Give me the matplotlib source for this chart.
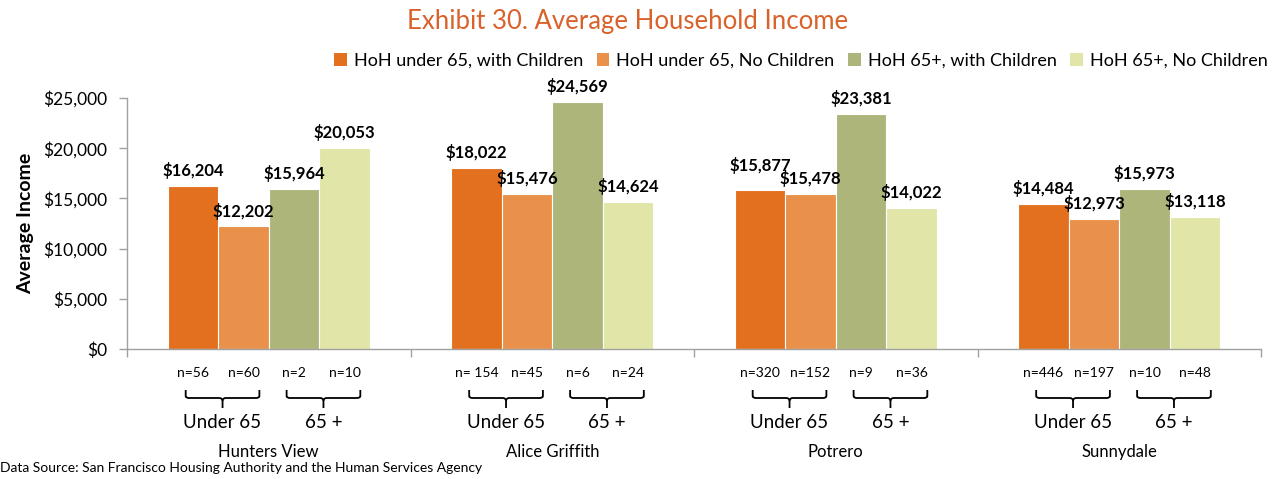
import matplotlib
matplotlib.use("Agg")
import matplotlib.pyplot as plt
import matplotlib.transforms as mtransforms
from matplotlib.patches import Patch
from matplotlib.path import Path
from matplotlib.patches import PathPatch
import numpy as np

# ---------------- data ----------------
sites = ["Hunters View", "Alice Griffith", "Potrero", "Sunnydale"]
series_names = ["HoH under 65, with Children", "HoH under 65, No Children",
                "HoH 65+, with Children", "HoH 65+, No Children"]
u65_kids = [16204, 18022, 15877, 14484]
u65_nokids = [12202, 15476, 15478, 12973]
o65_kids = [15964, 24569, 23381, 15973]
o65_nokids = [20053, 14624, 14022, 13118]
n_u65_kids = ["n=56", "n= 154", "n=320", "n=446"]
n_u65_nokids = ["n=60", "n=45", "n=152", "n=197"]
n_o65_kids = ["n=2", "n=6", "n=9", "n=10"]
n_o65_nokids = ["n=10", "n=24", "n=36", "n=48"]
age_groups = ["Under 65", "65 +"]
yticks = [0, 5000, 10000, 15000, 20000, 25000]
title = "Exhibit 30. Average Household Income"
ylabel = "Average Income"
source = "Data Source: San Francisco Housing Authority and the Human Services Agency"

colors = ["#E2701E", "#E9914A", "#AEB57A", "#E1E6A8"]

plt.rcParams['font.family'] = ['Lato', 'DejaVu Sans']

W, H = 1278, 479
fig = plt.figure(figsize=(W / 100, H / 100), dpi=100)
ax = fig.add_axes([127 / W, 1 - 349 / H, 1134 / W, 251 / H])

series = [u65_kids, u65_nokids, o65_kids, o65_nokids]
nlabels = [n_u65_kids, n_u65_nokids, n_o65_kids, n_o65_nokids]
x = np.arange(len(sites))
bw = 0.178
offsets = [-1.5 * bw, -0.5 * bw, 0.5 * bw, 1.5 * bw]

for s, vals, off, c in zip(range(4), series, offsets, colors):
    ax.bar(x + off, vals, width=bw, color=c, edgecolor="white",
           linewidth=0.8, zorder=2)
    for i, (xi, v) in enumerate(zip(x + off, vals)):
        lift = 5
        # lift a label when its right neighbour has a nearly equal value
        if s < 3 and abs(series[s + 1][i] - v) < 1000:
            lift += 6
        ax.annotate(f"${v:,.0f}", (xi, v), xytext=(0, lift), textcoords="offset points",
                    ha="center", va="bottom", fontsize=12, fontweight="bold",
                    color="black")

ax.set_xlim(-0.5, 3.5)
ax.set_ylim(0, 25000)
ax.set_yticks(yticks)
ax.set_yticklabels([f"${v:,.0f}" for v in yticks], fontsize=12.5)
ax.set_xticks([-0.5, 0.5, 1.5, 2.5, 3.5])
ax.set_xticklabels([])
ax.tick_params(axis="both", direction="out", length=6, color="#A0A0A0", width=1)
ax.tick_params(axis="y", pad=8)
for sp in ["top", "right"]:
    ax.spines[sp].set_visible(False)
for sp in ["left", "bottom"]:
    ax.spines[sp].set_color("#A0A0A0")
    ax.spines[sp].set_linewidth(1)
ax.set_ylabel(ylabel, fontsize=14, fontweight="bold")
ax.yaxis.set_label_coords(-(127 - 34) / 1134, 0.5)

# ---------- lower annotations ----------
trans = mtransforms.blended_transform_factory(ax.transData, fig.transFigure)
fy = lambda py: 1 - py / H

for s in range(4):
    for i in range(4):
        ax.text(x[i] + offsets[s], fy(373), nlabels[s][i], transform=trans,
                ha="center", va="center", fontsize=10)

half = 0.13
r = 0.012
for i in range(4):
    for g, (a, b) in enumerate([(0, 1), (2, 3)]):
        cx = x[i] + (offsets[a] + offsets[b]) / 2 + 0.015
        verts = [(cx - half, fy(390)), (cx - half, fy(396)), (cx - half, fy(398)),
                 (cx - half + r, fy(398)), (cx - r, fy(398)), (cx, fy(398)),
                 (cx, fy(401)), (cx, fy(408))]
        codes = [Path.MOVETO, Path.LINETO, Path.CURVE3, Path.CURVE3, Path.LINETO,
                 Path.CURVE3, Path.CURVE3, Path.LINETO]
        verts2 = [(cx + half, fy(390)), (cx + half, fy(396)), (cx + half, fy(398)),
                  (cx + half - r, fy(398)), (cx + r, fy(398)), (cx, fy(398)),
                  (cx, fy(401))]
        codes2 = [Path.MOVETO, Path.LINETO, Path.CURVE3, Path.CURVE3, Path.LINETO,
                  Path.CURVE3, Path.CURVE3]
        for vv, cc in [(verts, codes), (verts2, codes2)]:
            pp = PathPatch(Path(vv, cc), transform=trans, fill=False,
                           edgecolor="black", lw=1.3, clip_on=False)
            ax.add_patch(pp)
        ax.text(cx, fy(422), age_groups[g], transform=trans, ha="center",
                va="center", fontsize=13.5)
    ax.text(x[i], fy(452), sites[i], transform=trans, ha="center",
            va="center", fontsize=12)

fig.text(0.0, fy(468), source, ha="left", va="center", fontsize=10)

fig.text(628 / W, fy(22), title, ha="center", va="center", fontsize=18.5,
         color="#D9622B")

handles = [Patch(facecolor=c, edgecolor="none") for c in colors]
fig.legend(handles, series_names, loc="center right",
           bbox_to_anchor=(1268 / W, fy(61)), ncol=4, frameon=False,
           prop={"size": 13}, handlelength=0.7,
           handleheight=0.7, handletextpad=0.4, columnspacing=0.75,
           borderaxespad=0, borderpad=0)

fig.savefig("out.png", dpi=100)
